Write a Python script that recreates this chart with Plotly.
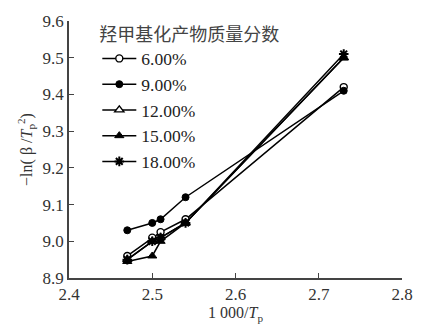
import plotly.graph_objects as go

# 1000/Tp values shared by every series
x_vals = [2.47, 2.50, 2.51, 2.54, 2.73]

series_names = ["6.00%", "9.00%", "12.00%", "15.00%", "18.00%"]
y_6 = [8.96, 9.01, 9.025, 9.06, 9.42]
y_9 = [9.03, 9.05, 9.06, 9.12, 9.41]
y_12 = [8.95, 9.00, 9.01, 9.05, 9.50]
y_15 = [8.945, 8.96, 9.00, 9.05, 9.50]
y_18 = [8.95, 9.00, 9.01, 9.05, 9.51]

x_ticks = [2.4, 2.5, 2.6, 2.7, 2.8]
y_ticks = [8.9, 9.0, 9.1, 9.2, 9.3, 9.4, 9.5, 9.6]

legend_title = "羟甲基化产物质量分数"

serif = "Liberation Serif"
cjk = "Noto Sans CJK SC"

markers = [
    dict(symbol="circle", color="white", size=7, line=dict(color="black", width=1.4)),
    dict(symbol="circle", color="black", size=7, line=dict(color="black", width=1)),
    dict(symbol="triangle-up", color="white", size=8, line=dict(color="black", width=1.4)),
    dict(symbol="triangle-up", color="black", size=8, line=dict(color="black", width=1)),
    dict(symbol="asterisk", color="black", size=8, line=dict(color="black", width=2)),
]

fig = go.Figure()
for name, ys, mk in zip(series_names, [y_6, y_9, y_12, y_15, y_18], markers):
    fig.add_trace(go.Scatter(
        x=x_vals, y=ys, name=name, mode="lines+markers",
        line=dict(color="black", width=1.5),
        marker=mk,
    ))

fig.update_layout(
    width=425, height=331,
    margin=dict(l=69, r=19, t=15, b=52),
    paper_bgcolor="white", plot_bgcolor="white",
    font=dict(family=serif, size=17, color="#333"),
    showlegend=True,
    legend=dict(
        x=0.085, y=1.015, xanchor="left", yanchor="top", maxheight=320,
        title=dict(text=legend_title, font=dict(family=cjk, size=18, color="#444")),
        font=dict(family=serif, size=17.5, color="#222"),
        bgcolor="rgba(0,0,0,0)", itemwidth=34, tracegroupgap=0,
    ),
    xaxis=dict(
        range=[2.4, 2.8], tickvals=x_ticks, ticktext=[f"{v:.1f}" for v in x_ticks],
        showgrid=False, zeroline=False, showline=True, linecolor="#444", linewidth=1.5,
        ticks="inside", ticklen=5, tickcolor="#444",
        title=dict(text="1 000/<i>T</i><sub>p</sub>", standoff=4,
                   font=dict(family=serif, size=16, color="#333")),
    ),
    yaxis=dict(
        range=[8.9, 9.6], tickvals=y_ticks, ticktext=[f"{v:.1f}" for v in y_ticks],
        showgrid=False, zeroline=False, showline=True, linecolor="#444", linewidth=1.5,
        ticks="inside", ticklen=5, tickcolor="#444",
        title=dict(text="−ln( β /<i>T</i><sub>p</sub><sup>2</sup>)", standoff=6,
                   font=dict(family=serif, size=16, color="#333")),
    ),
)

fig.write_html("out.html")
